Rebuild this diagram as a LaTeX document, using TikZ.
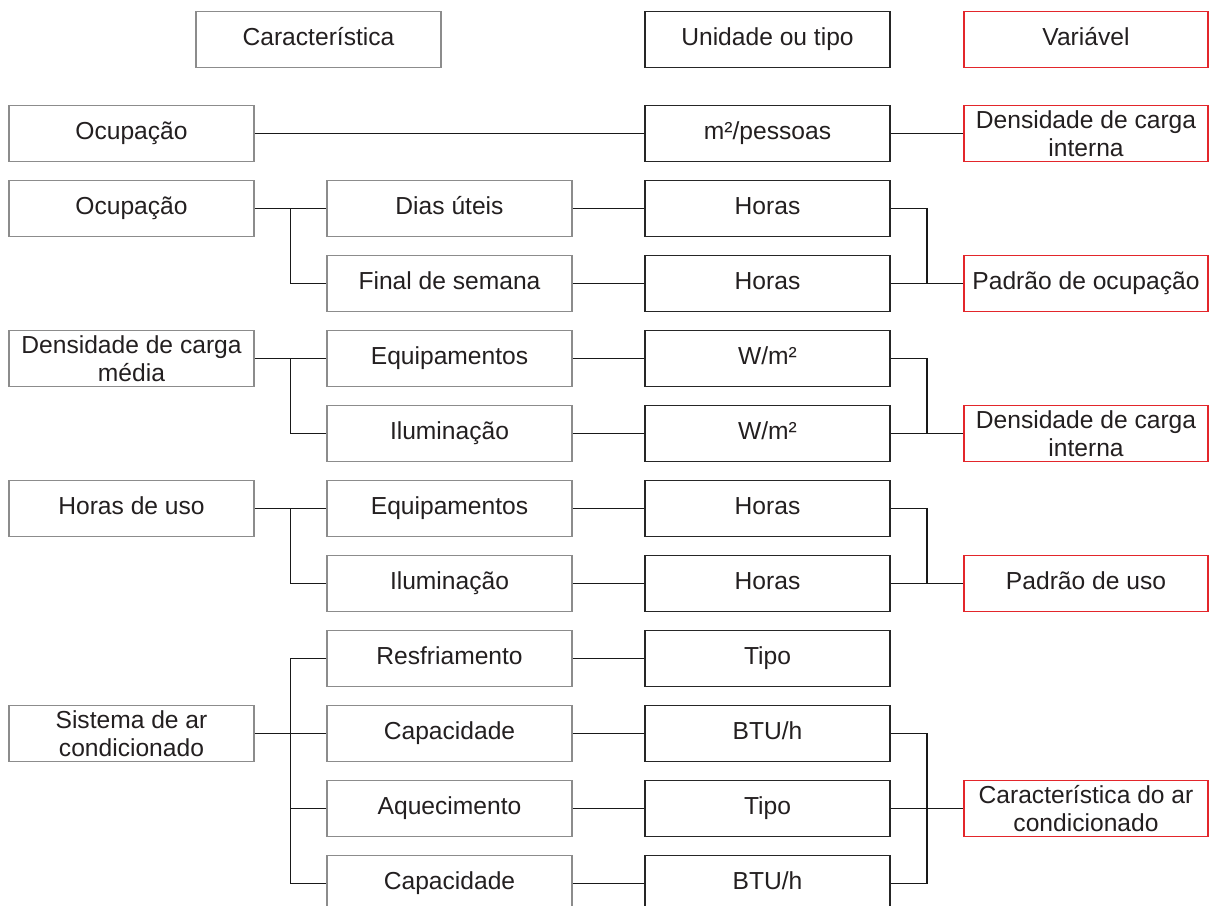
\documentclass[tikz,border=0pt]{standalone}
\usepackage{fontspec}
\setmainfont{Liberation Sans}
\usepackage{tikz}
\usetikzlibrary{calc,positioning}

\definecolor{txtgray}{HTML}{231F20}
\definecolor{boxgray}{HTML}{8C8C8C}
\definecolor{boxred}{HTML}{E3262B}

\begin{document}
\begin{tikzpicture}[x=0.025cm,y=-0.025cm,
  box/.style={rectangle,minimum width=6.1cm,minimum height=1.4cm,inner sep=0pt,
    line width=1.4pt,text=txtgray,text height=12.6pt,text depth=3.5pt,
    font=\fontsize{17.5pt}{20pt}\selectfont},
  twoline/.style={align=center,text height={},text depth={}},
  gbox/.style={box,draw=boxgray},
  kbox/.style={box,draw=black!85},
  rbox/.style={box,draw=boxred},
  link/.style={line width=1.4pt,black!90}]
\clip (0,0) rectangle (1210,906);
% Headers
\node[gbox] (car) at (318.5,39.5) {Característica};
\node[kbox] (uni) at (767.5,39.5) {Unidade ou tipo};
\node[rbox] (var) at (1086,39.5) {Variável};

% Ocupacao (area)
\node[gbox] (ocA) at (131.5,133.5) {Ocupação};
\node[kbox] (m2pes) at (767.5,133.5) {m²/pessoas};
\node[rbox,twoline] (densA) at (1086,133.5) {Densidade de carga\\interna};
\draw[link] (ocA) -- (m2pes) -- (densA);

% Ocupacao (horario)
\node[gbox] (ocB) at (131.5,208.5) {Ocupação};
\node[gbox] (diasu) at (449.5,208.5) {Dias úteis};
\node[gbox] (fimsem) at (449.5,283.5) {Final de semana};
\node[kbox] (horasA) at (767.5,208.5) {Horas};
\node[kbox] (horasB) at (767.5,283.5) {Horas};
\node[rbox] (padocup) at (1086,283.5) {Padrão de ocupação};
\draw[link] (ocB) -- (diasu) -- (horasA);
\draw[link] (fimsem) -- (horasB) -- (padocup);
\draw[link] ($(ocB.east)!.5!(diasu.west)$) |- (fimsem.west);
\draw[link] (horasA.east) -| ($(horasB.east)!.5!(padocup.west)$);

% Densidade de carga media
\node[gbox,twoline] (densmed) at (131.5,358.5) {Densidade de carga\\média};
\node[gbox] (equipA) at (449.5,358.5) {Equipamentos};
\node[gbox] (ilumA) at (449.5,433.5) {Iluminação};
\node[kbox] (wmA) at (767.5,358.5) {W/m²};
\node[kbox] (wmB) at (767.5,433.5) {W/m²};
\node[rbox,twoline] (densB) at (1086,433.5) {Densidade de carga\\interna};
\draw[link] (densmed) -- (equipA) -- (wmA);
\draw[link] (ilumA) -- (wmB) -- (densB);
\draw[link] ($(densmed.east)!.5!(equipA.west)$) |- (ilumA.west);
\draw[link] (wmA.east) -| ($(wmB.east)!.5!(densB.west)$);

% Horas de uso
\node[gbox] (huso) at (131.5,508.5) {Horas de uso};
\node[gbox] (equipB) at (449.5,508.5) {Equipamentos};
\node[gbox] (ilumB) at (449.5,583.5) {Iluminação};
\node[kbox] (horasC) at (767.5,508.5) {Horas};
\node[kbox] (horasD) at (767.5,583.5) {Horas};
\node[rbox] (paduso) at (1086,583.5) {Padrão de uso};
\draw[link] (huso) -- (equipB) -- (horasC);
\draw[link] (ilumB) -- (horasD) -- (paduso);
\draw[link] ($(huso.east)!.5!(equipB.west)$) |- (ilumB.west);
\draw[link] (horasC.east) -| ($(horasD.east)!.5!(paduso.west)$);

% Sistema de ar condicionado
\node[gbox,twoline] (sist) at (131.5,733.5) {Sistema de ar\\condicionado};
\node[gbox] (resf) at (449.5,658.5) {Resfriamento};
\node[gbox] (capA) at (449.5,733.5) {Capacidade};
\node[gbox] (aquec) at (449.5,808.5) {Aquecimento};
\node[gbox] (capB) at (449.5,883.5) {Capacidade};
\node[kbox] (tipoA) at (767.5,658.5) {Tipo};
\node[kbox] (btuA) at (767.5,733.5) {BTU/h};
\node[kbox] (tipoB) at (767.5,808.5) {Tipo};
\node[kbox] (btuB) at (767.5,883.5) {BTU/h};
\node[rbox,twoline] (carac) at (1086,808.5) {Característica do ar\\condicionado};
\coordinate (lb) at ($(sist.east)!.5!(capA.west)$);
\coordinate (rb) at ($(tipoB.east)!.5!(carac.west)$);
\draw[link] (sist) -- (capA) -- (btuA);
\draw[link] (resf) -- (tipoA);
\draw[link] (aquec) -- (tipoB) -- (carac);
\draw[link] (capB) -- (btuB);
\draw[link] (resf.west) -| (lb) |- (capB.west);
\draw[link] (aquec.west) -- (aquec.west -| lb);
\draw[link] (btuA.east) -| (rb) |- (btuB.east);
\end{tikzpicture}
\end{document}
